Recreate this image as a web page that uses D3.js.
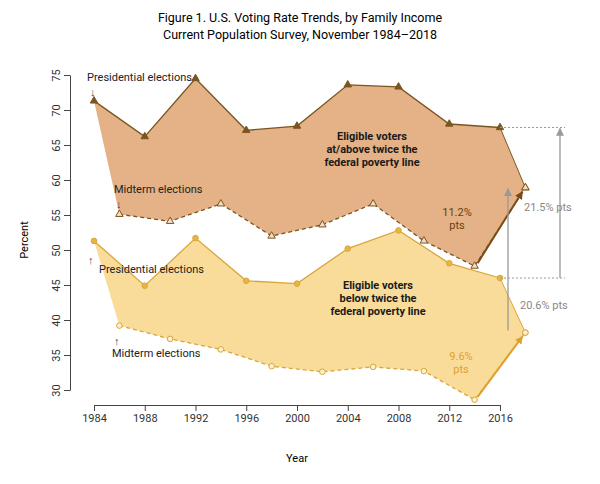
<!DOCTYPE html>
<meta charset="utf-8">
<style>
body { margin: 0; background: #fff; }
text { font-family: Roboto, "Noto Sans", sans-serif; }
.axis text { font-size: 11px; fill: #333; }
.axis path, .axis line { stroke: #444; }
</style>
<body>
<script src="https://d3js.org/d3.v7.min.js"></script>
<script>
// data
var presYears = [1984, 1988, 1992, 1996, 2000, 2004, 2008, 2012, 2016, 2018];
var midYears = [1986, 1990, 1994, 1998, 2002, 2006, 2010, 2014, 2018];
var highPres = [71.3, 66.2, 74.5, 67.1, 67.7, 73.6, 73.3, 68.0, 67.5, 58.9];
var highMid = [55.1, 54.1, 56.6, 52.0, 53.6, 56.6, 51.3, 47.7, 58.9];
var lowPres = [51.3, 44.9, 51.7, 45.6, 45.2, 50.2, 52.8, 48.1, 46.0, 38.2];
var lowMid = [39.2, 37.3, 35.8, 33.4, 32.6, 33.3, 32.7, 28.6, 38.2];
var xTicks = [1984, 1988, 1992, 1996, 2000, 2004, 2008, 2012, 2016];
var yTicks = [30, 35, 40, 45, 50, 55, 60, 65, 70, 75];

var svg = d3.select("body").append("svg").attr("width", 600).attr("height", 484);

var x = d3.scaleLinear().domain([1984, 2016]).range([94, 500]);
var y = d3.scaleLinear().domain([30, 75]).range([390, 75]);

svg.append("text").attr("x", 300).attr("y", 22).attr("text-anchor", "middle")
  .style("font-size", "12.5px").text("Figure 1. U.S. Voting Rate Trends, by Family Income");
svg.append("text").attr("x", 300).attr("y", 39).attr("text-anchor", "middle")
  .style("font-size", "12.5px").text("Current Population Survey, November 1984\u20132018");

svg.append("g").attr("class", "axis").attr("transform", "translate(0,405)")
  .call(d3.axisBottom(x).tickValues(xTicks).tickFormat(d3.format("d")).tickSizeOuter(0));

var yAxis = svg.append("g").attr("class", "axis").attr("transform", "translate(70,0)")
  .call(d3.axisLeft(y).tickValues(yTicks).tickSizeOuter(0));
yAxis.selectAll(".tick text").attr("transform", "translate(-14,0) rotate(-90)")
  .attr("x", 0).attr("dy", "0.35em").style("text-anchor", "middle");

svg.append("text").attr("transform", "translate(28,240) rotate(-90)").attr("text-anchor", "middle")
  .style("font-size", "11px").text("Percent");
svg.append("text").attr("x", 297).attr("y", 462).attr("text-anchor", "middle")
  .style("font-size", "11px").text("Year");

function pts(years, vals) { return years.map(function(yr, i) { return [x(yr), y(vals[i])]; }); }

function group(pres, mid, fill, stroke) {
  var top = pts(presYears, pres), bot = pts(midYears, mid);
  svg.append("path").attr("d", d3.line()(top.concat(bot.slice().reverse())))
    .attr("fill", fill).attr("stroke", "none");
  svg.append("path").attr("d", d3.line()(top.slice(0, 9))).attr("fill", "none")
    .attr("stroke", stroke).attr("stroke-width", 1.3);
  svg.append("path").attr("d", d3.line()([top[8], top[9]])).attr("fill", "none")
    .attr("stroke", stroke).attr("stroke-width", 1);
  svg.append("path").attr("d", d3.line()(bot)).attr("fill", "none")
    .attr("stroke", stroke).attr("stroke-width", 1.3).attr("stroke-dasharray", "4,3");
  return { top: top, bot: bot };
}

var hi = group(highPres, highMid, "#e4b286", "#7a5520");
var lo = group(lowPres, lowMid, "#f9dc9a", "#d9a63c");

var tri = d3.symbol().type(d3.symbolTriangle).size(24);
hi.top.forEach(function(p, i) {
  svg.append("path").attr("d", tri).attr("transform", "translate(" + p + ")")
    .attr("fill", i === 9 ? "#fff" : "#7a5520").attr("stroke", "#7a5520");
});
hi.bot.forEach(function(p) {
  svg.append("path").attr("d", tri).attr("transform", "translate(" + p + ")")
    .attr("fill", "#f4dcc4").attr("stroke", "#7a5520");
});
lo.top.forEach(function(p, i) {
  svg.append("circle").attr("cx", p[0]).attr("cy", p[1]).attr("r", 2.8)
    .attr("fill", i === 9 ? "#fff" : "#e8b640").attr("stroke", "#d9a63c");
});
lo.bot.forEach(function(p) {
  svg.append("circle").attr("cx", p[0]).attr("cy", p[1]).attr("r", 2.8)
    .attr("fill", "#fdf0d0").attr("stroke", "#d9a63c");
});

var defs = svg.append("defs");
function marker(id, c) {
  defs.append("marker").attr("id", id).attr("viewBox", "0 0 10 10").attr("refX", 9).attr("refY", 5)
    .attr("markerUnits", "userSpaceOnUse").attr("markerWidth", 8).attr("markerHeight", 8)
    .attr("orient", "auto")
    .append("path").attr("d", "M0,0L10,5L0,10z").attr("fill", c);
}
marker("mb", "#7a4a16"); marker("my", "#e0a030"); marker("mg", "#999");

function arrow(x1, y1, x2, y2, c, m, w) {
  svg.append("line").attr("x1", x1).attr("y1", y1).attr("x2", x2).attr("y2", y2)
    .attr("stroke", c).attr("stroke-width", w).attr("marker-end", "url(#" + m + ")");
}
arrow(x(2014) + 3, y(47.7) - 3, x(2018) - 3, y(58.9) + 4, "#7a4a16", "mb", 2);
arrow(x(2014) + 3, y(28.6) - 3, x(2018) - 3, y(38.2) + 4, "#e0a030", "my", 2);

svg.append("line").attr("x1", x(2016)).attr("x2", 565).attr("y1", y(67.5)).attr("y2", y(67.5))
  .attr("stroke", "#999").attr("stroke-dasharray", "2,2");
svg.append("line").attr("x1", x(2016)).attr("x2", 565).attr("y1", y(46.0)).attr("y2", y(46.0))
  .attr("stroke", "#999").attr("stroke-dasharray", "2,2");
arrow(560, y(46.0), 560, y(67.5) + 1, "#999", "mg", 1.3);
arrow(508, y(38.2) - 2, 508, y(58.9) + 1, "#999", "mg", 1.3);

function label(tx, px, py, size, anchor, color, weight) {
  var t = svg.append("text").attr("x", px).attr("y", py).attr("text-anchor", anchor || "start")
    .style("font-size", size + "px").attr("fill", color || "#222").style("font-weight", weight || "normal");
  tx.split("\n").forEach(function(s, i) {
    t.append("tspan").attr("x", px).attr("dy", i ? "1.2em" : 0).text(s);
  });
}
label("Presidential elections", 87, 81, 11);
label("\u2193", 90, 96, 11, "start", "#444");
label("Midterm elections", 114, 193, 11);
label("\u2193", 116, 208, 11, "start", "#444");
label("Presidential elections", 99, 273, 11);
label("\u2191", 88, 264, 11, "start", "#444");
label("\u2191", 114, 345, 11, "start", "#444");
label("Midterm elections", 112, 357, 11);
label("Eligible voters\nat/above twice the\nfederal poverty line", 372, 140, 11, "middle", "#1a1a1a", "bold");
label("Eligible voters\nbelow twice the\nfederal poverty line", 378, 289, 11, "middle", "#1a1a1a", "bold");
label("11.2%\npts", 457, 216, 11, "middle", "#6b3e10");
label("9.6%\npts", 461, 360, 11, "middle", "#e0a030");
label("21.5% pts", 524, 211, 11, "start", "#888");
label("20.6% pts", 520, 309, 11, "start", "#888");
</script>
</body>
